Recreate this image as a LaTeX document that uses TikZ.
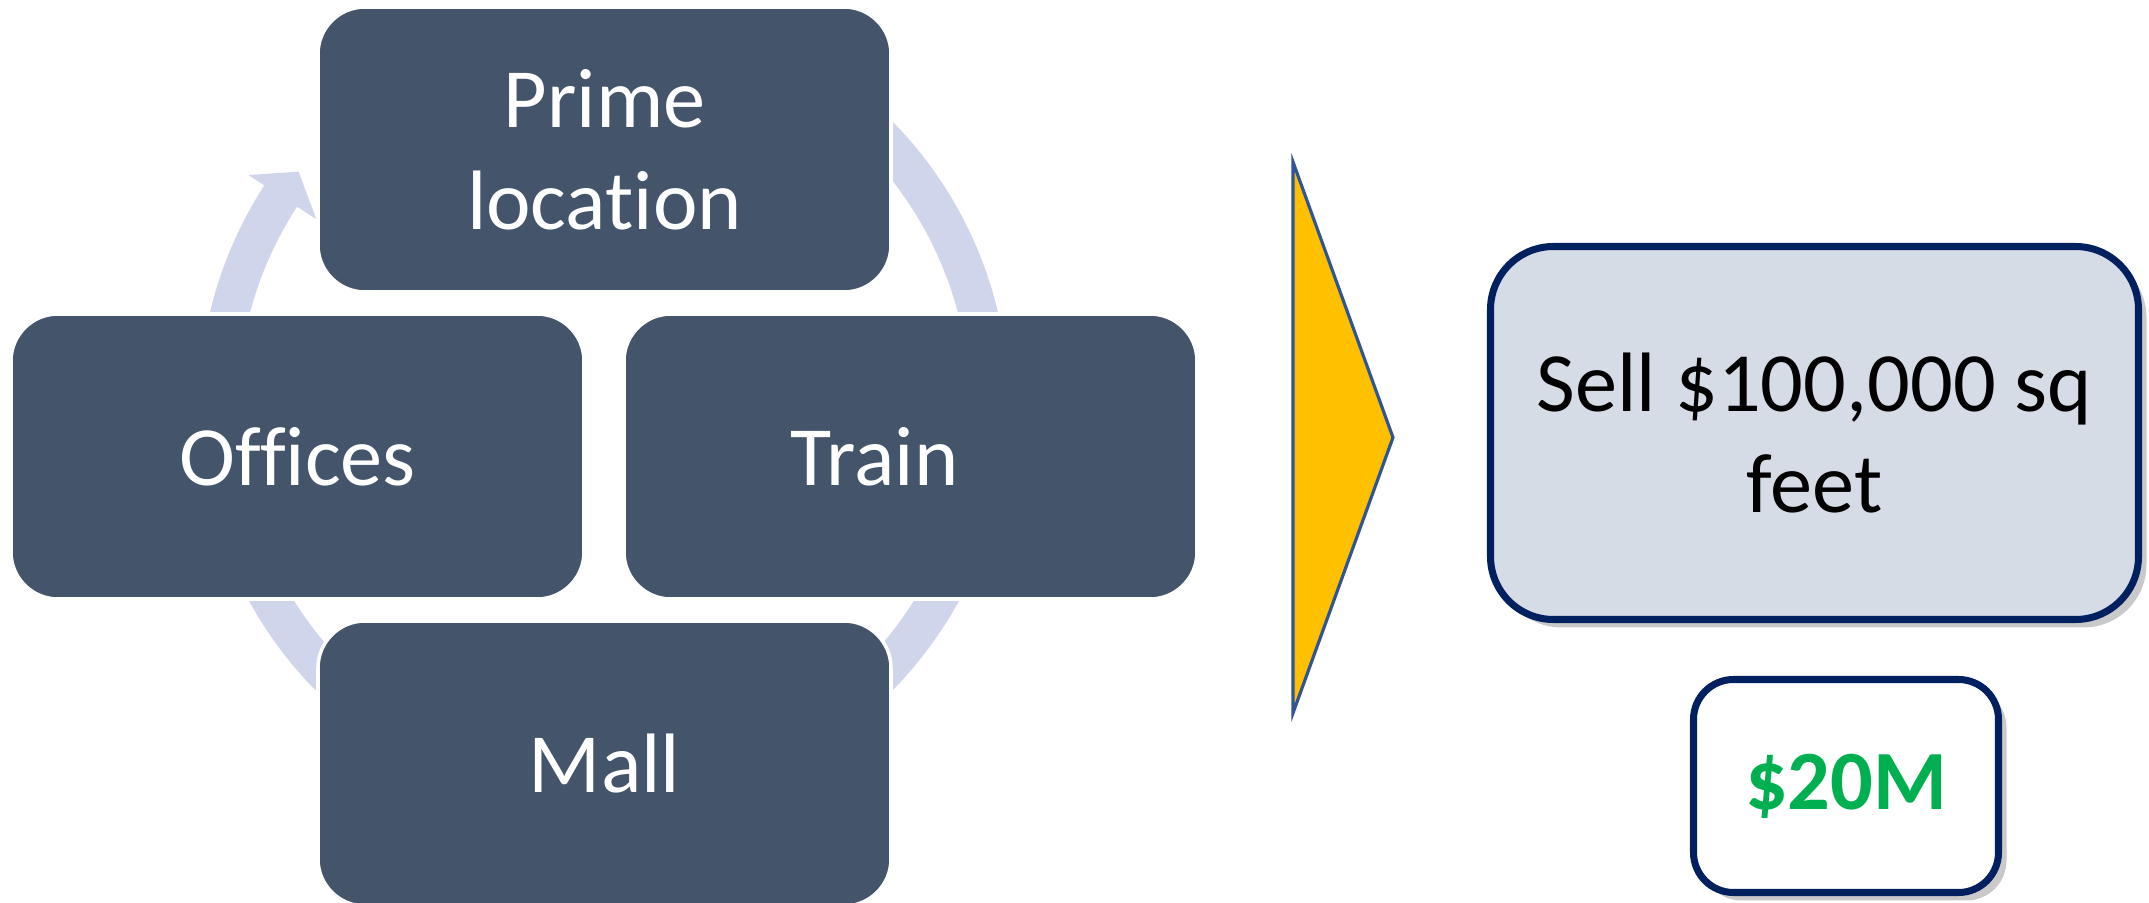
\documentclass[tikz,border=0pt]{standalone}
\usepackage{fontspec}
\setmainfont{Carlito}[Ligatures=CommonOff]
\usetikzlibrary{shadows}

\definecolor{slate}{HTML}{44546A}
\definecolor{ringblue}{HTML}{CFD5EA}
\definecolor{navy}{HTML}{002060}
\definecolor{paleblue}{HTML}{D6DCE5}
\definecolor{gold}{HTML}{FFC000}
\definecolor{edgeblue}{HTML}{2F5597}
\definecolor{money}{HTML}{00B050}

\begin{document}
\begin{tikzpicture}[
  tile/.style={draw=white, line width=1pt, fill=slate, rounded corners=4.7mm,
    minimum width=5.73cm, minimum height=2.85cm, text=white, align=center,
    font=\fontsize{24}{29}\selectfont},
  result/.style={draw=navy, line width=2pt, rounded corners=6.3mm, align=center,
    font=\fontsize{24}{29}\selectfont,
    drop shadow={shadow xshift=0.8mm, shadow yshift=-0.8mm, opacity=0.3, fill=black!70}}
]
\useasboundingbox (0,0) rectangle (21.49,9.03);
\clip (0,0) rectangle (21.49,9.03);

% Cycle ring behind the four tiles, head at the upper left
\coordinate (hub) at (6.04,4.97);
\fill[ringblue, shift={(hub)}] (60:4.05) arc[start angle=60, end angle=-213, radius=4.05]
  -- (-213:4.24) -- (-217.5:3.85) -- (-213:3.43) -- (-213:3.66)
  arc[start angle=-213, end angle=60, radius=3.66] -- cycle;

\node[tile] (prime)   at (6.045,7.535) {Prime\\location};
\node[tile] (offices) at (2.975,4.465) {Offices};
\node[tile] (train)   at (9.105,4.465) {Train\hspace*{7.2mm}};
\node[tile] (mall)    at (6.045,1.395) {Mall};

% Chevron pointing to the outcome
\draw[fill=gold, draw=edgeblue, line width=0.9pt, line join=miter]
  (12.93,7.41) -- (13.93,4.655) -- (12.93,1.90) -- cycle;

\node[result, fill=paleblue, minimum width=6.48cm, minimum height=3.73cm] (sell)
  at (18.145,4.70) {Sell \$100,000 sq\\feet};
\node[result, fill=white, rounded corners=4mm, minimum width=3.05cm, minimum height=2.13cm,
  text=money, font=\fontsize{24}{29}\selectfont\bfseries] (price)
  at (18.46,1.17) {\$20M};

\end{tikzpicture}
\end{document}
